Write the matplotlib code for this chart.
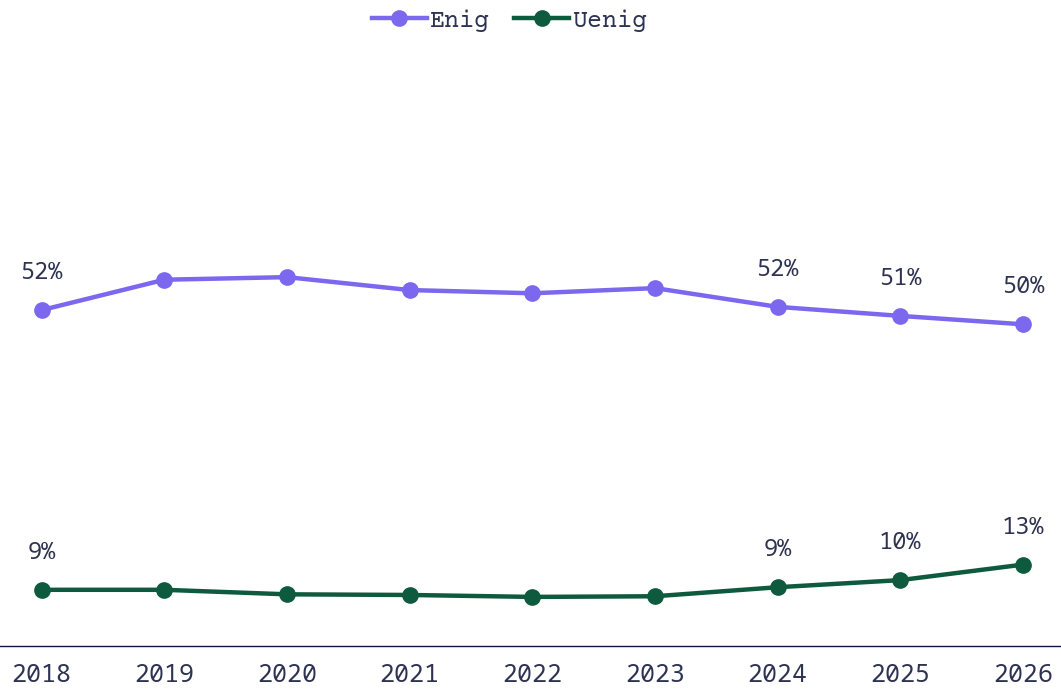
import matplotlib.pyplot as plt

years = [2018, 2019, 2020, 2021, 2022, 2023, 2024, 2025, 2026]
enig = [52.0, 56.7, 57.1, 55.1, 54.6, 55.4, 52.5, 51.1, 49.8]
uenig = [8.7, 8.7, 8.0, 7.9, 7.6, 7.7, 9.1, 10.2, 12.6]
label_idx = [0, 6, 7, 8]

purple = '#7b68ee'
green = '#0e5a3e'
txt = '#2e3352'
label_font = ['Noto Sans Mono', 'DejaVu Sans Mono']

fig = plt.figure(figsize=(10.61, 6.89), dpi=100)
ax = fig.add_axes([0, 0.0624, 1, 0.9376])

ax.plot(years, enig, color=purple, lw=3.2, marker='o', ms=11, label='Enig')
ax.plot(years, uenig, color=green, lw=3.2, marker='o', ms=11, label='Uenig')

# etiketter kun på utvalgte punkter
for serie in (enig, uenig):
    for i in label_idx:
        ax.annotate(f"{round(serie[i])}%", (years[i], serie[i]), xytext=(0, 18),
                    textcoords='offset points', ha='center', va='bottom',
                    fontsize=17, color=txt, family=label_font, weight='light')

ax.set_xlim(2017.66, 2026.31)
ax.set_ylim(0, 100)
ax.set_xticks(years)
ax.set_xticklabels([str(y) for y in years], fontsize=18, color=txt,
                   family=label_font, weight='light')
ax.tick_params(axis='x', length=0, pad=12)
ax.set_yticks([])
for s in ['top', 'right', 'left']:
    ax.spines[s].set_visible(False)
ax.spines['bottom'].set_color('#0b1742')
ax.spines['bottom'].set_linewidth(1)

leg = ax.legend(loc='upper center', bbox_to_anchor=(0.48, 1.005), ncol=2, frameon=False,
                prop={'family': ['Courier Prime', 'FreeMono', 'DejaVu Sans Mono'], 'size': 18},
                handlelength=2.2, handletextpad=0.1, columnspacing=1.0, borderaxespad=0.1)
for t in leg.get_texts():
    t.set_color(txt)

fig.savefig('out.png', dpi=100)
